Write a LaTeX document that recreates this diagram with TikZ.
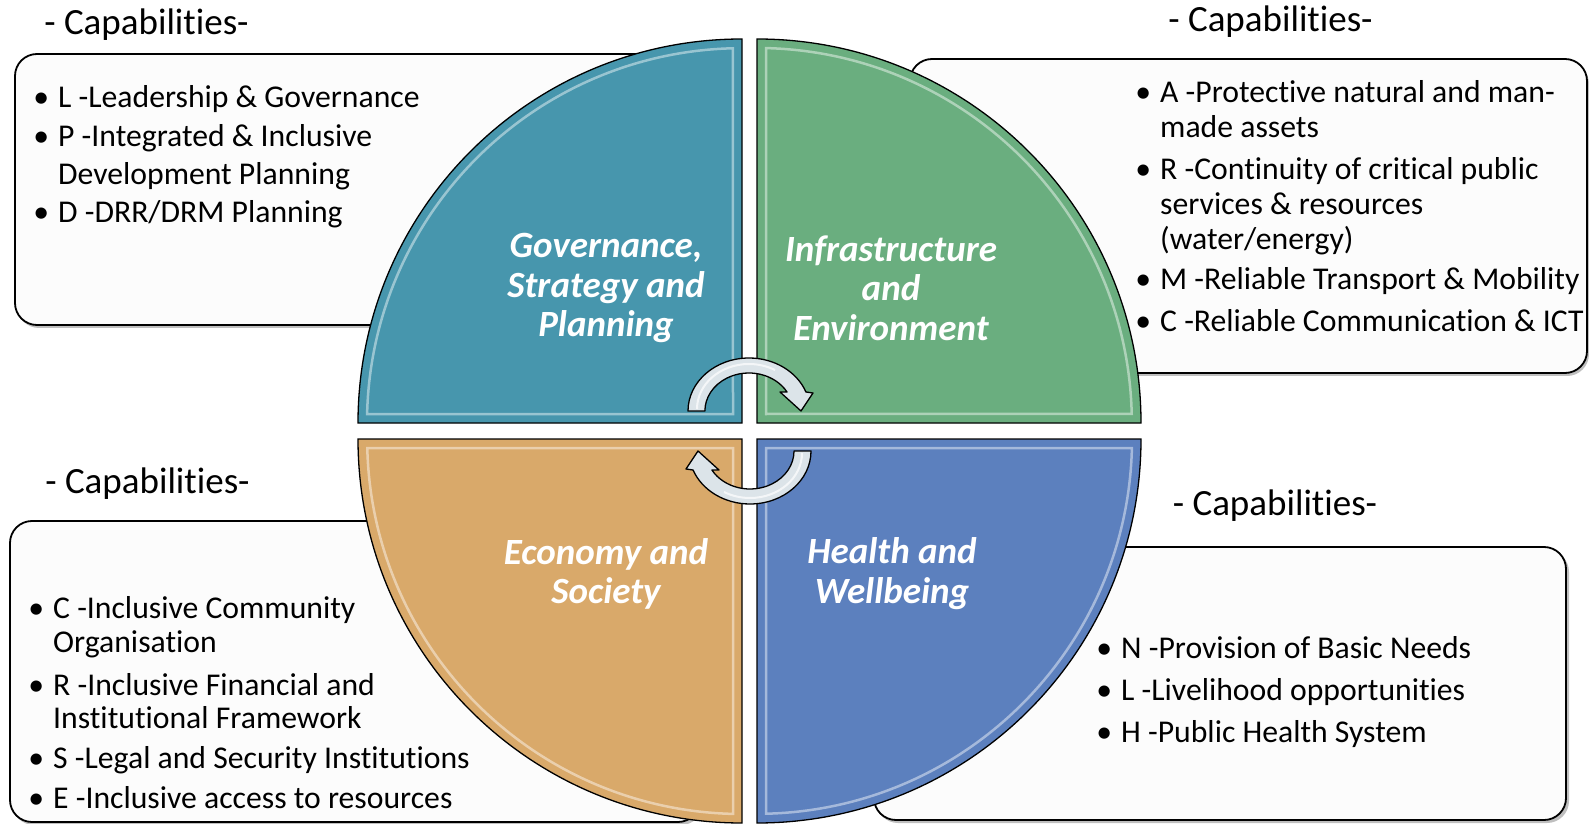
\documentclass[tikz,border=0pt]{standalone}
\usepackage{fontspec}
\setmainfont{Carlito}[Ligatures=NoCommon]
\usetikzlibrary{calc}
\definecolor{qteal}{RGB}{71,150,173}
\definecolor{qgreen}{RGB}{106,174,127}
\definecolor{qorange}{RGB}{217,169,106}
\definecolor{qblue}{RGB}{92,128,190}
\definecolor{arrowfill}{RGB}{220,228,233}
\definecolor{boxfill}{RGB}{252,252,252}
\newcommand{\itembul}{\llap{\makebox[0pt][c]{•}\hspace{17pt}}}
\tikzset{
  capbox/.style={draw=black, line width=1.8pt, fill=boxfill, rounded corners=22pt},
  capshadow/.style={fill=black, opacity=0.25, rounded corners=22pt},
  quad/.style={draw=black, line width=1.3pt},
  bevel/.style={draw=white, line width=2.5pt, opacity=0.45},
  qlabel/.style={text=white, font=\fontsize{37}{39.5}\selectfont\bfseries\itshape, align=center, inner sep=0pt},
  itemline/.style={anchor=base west, inner sep=0pt, font=\fontsize{31.7}{38}\selectfont},
  captitle/.style={anchor=base, inner sep=0pt, font=\fontsize{37}{40}\selectfont},
  cyclearrow/.style={fill=arrowfill, draw=black, line width=1.3pt, line join=round},
  arrowshine/.style={draw=white, line width=2pt, opacity=0.7}
}
\begin{document}
\begin{tikzpicture}[x=1pt,y=1pt]
\useasboundingbox (0,0) rectangle (1589,823);

% capability boxes (behind the circle)
\fill[capshadow] (17,495) rectangle (703,766);
\draw[capbox] (15,498) rectangle (700,769);
\fill[capshadow] (912,447) rectangle (1589,761);
\draw[capbox] (910,450) rectangle (1587,764);
\fill[capshadow] (12,-2) rectangle (703,299);
\draw[capbox] (10,1) rectangle (700,302);
\fill[capshadow] (876,0) rectangle (1569,273);
\draw[capbox] (874,3) rectangle (1566,276);

% quadrants
\fill[qteal] (742,400) -- (358,400) arc[start angle=180,end angle=90,radius=384] -- cycle;
\draw[bevel] (733,409) -- (367.1,409) arc[start angle=178.6,end angle=91.4,radius=375] -- cycle;
\draw[quad] (742,400) -- (358,400) arc[start angle=180,end angle=90,radius=384] -- cycle;

\fill[qgreen] (757,400) -- (757,784) arc[start angle=90,end angle=0,radius=384] -- cycle;
\draw[bevel] (766,409) -- (766,774.9) arc[start angle=88.6,end angle=1.4,radius=375] -- cycle;
\draw[quad] (757,400) -- (757,784) arc[start angle=90,end angle=0,radius=384] -- cycle;

\fill[qblue] (757,384) -- (1141,384) arc[start angle=0,end angle=-90,radius=384] -- cycle;
\draw[bevel] (766,375) -- (1131.9,375) arc[start angle=-1.4,end angle=-88.6,radius=375] -- cycle;
\draw[quad] (757,384) -- (1141,384) arc[start angle=0,end angle=-90,radius=384] -- cycle;

\fill[qorange] (742,384) -- (742,0) arc[start angle=270,end angle=180,radius=384] -- cycle;
\draw[bevel] (733,375) -- (733,9.1) arc[start angle=268.6,end angle=181.4,radius=375] -- cycle;
\draw[quad] (742,384) -- (742,0) arc[start angle=270,end angle=180,radius=384] -- cycle;

% cycle arrows
\draw[cyclearrow] (688,412) arc[start angle=180,end angle=21,x radius=61,y radius=53]
  -- (813,430) -- (801,412) -- (780,431) -- (787,431)
  arc[start angle=30,end angle=180,x radius=44,y radius=38] -- cycle;
\draw[arrowshine] (697,414) arc[start angle=180,end angle=60,x radius=52,y radius=45];
\draw[cyclearrow] (811,372) arc[start angle=0,end angle=-159,x radius=61,y radius=53]
  -- (686,354) -- (698,372) -- (719,353) -- (711.9,353)
  arc[start angle=-150,end angle=0,x radius=44,y radius=38] -- cycle;
\draw[arrowshine] (802,370) arc[start angle=0,end angle=-120,x radius=52,y radius=45];

% quadrant labels
\node[qlabel] (gsp) at (606,535) {Governance,\\Strategy and\\Planning};
\node[qlabel] (ie) at (891,535) {Infrastructure\\and\\Environment};
\node[qlabel] (es) at (606,249) {Economy and\\Society};
\node[qlabel] (hw) at (892,249.5) {Health and\\Wellbeing};

% titles
\node[captitle] (ttl) at (146.5,788) {- Capabilities-};
\node[captitle] (ttr) at (1270.5,791) {- Capabilities-};
\node[captitle] (tbl) at (147.5,330) {- Capabilities-};
\node[captitle] (tbr) at (1275,308) {- Capabilities-};

% top-left list
\node[itemline] (tl1) at (58,715) {\itembul L -Leadership \& Governance};
\node[itemline] (tl2) at (58,676) {\itembul P -Integrated \& Inclusive};
\node[itemline] (tl3) at (58,638) {Development Planning};
\node[itemline] (tl4) at (58,600) {\itembul D -DRR/DRM Planning};

% top-right list
\node[itemline] (tr1) at (1160,720) {\itembul A -Protective natural and man-};
\node[itemline] (tr2) at (1160,685) {made assets};
\node[itemline] (tr3) at (1160,643) {\itembul R -Continuity of critical public};
\node[itemline] (tr4) at (1160,608) {services \& resources};
\node[itemline] (tr5) at (1160,573) {(water/energy)};
\node[itemline] (tr6) at (1160,533) {\itembul M -Reliable Transport \& Mobility};
\node[itemline] (tr7) at (1160,491) {\itembul C -Reliable Communication \& ICT};

% bottom-left list
\node[itemline] (bl1) at (53,205) {\itembul C -Inclusive Community};
\node[itemline] (bl2) at (53,171) {Organisation};
\node[itemline] (bl3) at (53,128) {\itembul R -Inclusive Financial and};
\node[itemline] (bl4) at (53,95) {Institutional Framework};
\node[itemline] (bl5) at (53,55) {\itembul S -Legal and Security Institutions};
\node[itemline] (bl6) at (53,15) {\itembul E -Inclusive access to resources};

% bottom-right list
\node[itemline] (br1) at (1121,165) {\itembul N -Provision of Basic Needs};
\node[itemline] (br2) at (1121,123) {\itembul L -Livelihood opportunities};
\node[itemline] (br3) at (1121,81) {\itembul H -Public Health System};
\end{tikzpicture}
\end{document}
